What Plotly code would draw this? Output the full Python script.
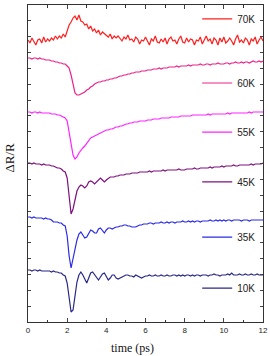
import plotly.graph_objects as go

# time axis (ps), sampled every 0.1 ps
time_ps = [round(i * 0.1, 1) for i in range(121)]

labels = ["70K", "60K", "55K", "45K", "35K", "10K"]
colors = ["#ff1f1f", "#ee2288", "#ff22ff", "#7f107f", "#2a2ae8", "#282888"]

# Offset dR/R traces (arbitrary units, vertically offset)
r70 = [282, 279, 284, 280, 277, 282, 283, 279, 285, 280,
       283, 281, 284, 282, 286, 283, 286, 284, 288, 285,
       291, 297, 300, 304, 306, 302, 307, 301, 300, 297,
       298, 293, 296, 291, 293, 289, 292, 287, 290, 288,
       287, 285, 288, 283, 286, 284, 286, 283, 281, 285,
       283, 287, 282, 283, 280, 285, 283, 278, 282, 281,
       285, 281, 277, 283, 281, 286, 280, 279, 283, 280,
       284, 278, 283, 285, 281, 282, 278, 283, 286, 280,
       279, 284, 280, 283, 282, 277, 282, 281, 285, 278,
       282, 286, 281, 283, 278, 284, 282, 277, 284, 280,
       285, 279, 281, 284, 281, 277, 283, 287, 280, 282,
       279, 284, 282, 277, 283, 281, 285, 278, 282, 285,
       281]
r60 = [264, 264, 263, 264, 264, 263, 264, 263, 263, 262,
       262, 262, 261, 261, 260, 260, 259, 259, 258, 258,
       256, 254, 247, 236, 229, 227, 227, 228, 229, 230,
       232, 233, 235, 236, 238, 239, 240, 240, 241, 241,
       242, 242, 243, 243, 244, 244, 245, 246, 246, 247,
       247, 248, 248, 249, 249, 250, 250, 250, 251, 251,
       251, 252, 252, 252, 253, 253, 253, 254, 253, 254,
       254, 254, 255, 255, 255, 255, 256, 255, 256, 256,
       256, 256, 257, 256, 257, 257, 257, 257, 258, 257,
       257, 258, 258, 257, 258, 258, 258, 259, 258, 258,
       258, 259, 259, 258, 259, 259, 260, 259, 259, 260,
       259, 260, 260, 259, 260, 261, 260, 260, 261, 260,
       261]
r55 = [210, 210, 209, 210, 210, 209, 210, 209, 209, 209,
       209, 209, 208, 208, 208, 207, 207, 206, 205, 204,
       201, 190, 176, 167, 163, 165, 169, 172, 174, 176,
       179, 181, 184, 185, 186, 187, 188, 189, 190, 191,
       192, 192, 193, 193, 194, 195, 195, 196, 196, 197,
       198, 198, 199, 199, 200, 200, 200, 201, 201, 201,
       201, 202, 202, 202, 203, 203, 203, 203, 204, 204,
       204, 204, 204, 205, 205, 205, 205, 205, 206, 206,
       206, 206, 206, 206, 207, 207, 207, 207, 207, 207,
       207, 207, 208, 207, 208, 208, 208, 208, 208, 208,
       208, 208, 209, 208, 209, 209, 209, 209, 209, 209,
       209, 209, 209, 210, 209, 210, 210, 210, 210, 210,
       210]
r45 = [159, 159, 158, 159, 158, 158, 158, 157, 158, 157,
       157, 157, 156, 156, 155, 154, 154, 153, 151, 150,
       144, 126, 108, 113, 124, 131, 135, 137, 136, 134,
       136, 140, 141, 140, 138, 140, 143, 144, 142, 140,
       142, 144, 145, 145, 145, 146, 146, 147, 147, 147,
       148, 148, 148, 149, 149, 149, 149, 150, 150, 150,
       150, 150, 151, 150, 151, 151, 151, 151, 151, 152,
       151, 152, 152, 152, 152, 152, 152, 153, 152, 152,
       152, 153, 153, 153, 153, 154, 153, 153, 154, 154,
       154, 154, 154, 155, 154, 155, 155, 155, 155, 156,
       155, 156, 156, 156, 156, 157, 156, 156, 157, 157,
       157, 157, 157, 157, 158, 157, 158, 158, 158, 158,
       159]
r35 = [105, 105, 104, 105, 104, 104, 104, 104, 103, 104,
       103, 103, 102, 100, 100, 100, 99, 99, 97, 96,
       86, 66, 54, 63, 75, 82, 88, 90, 87, 84,
       85, 89, 92, 91, 89, 89, 93, 94, 91, 89,
       92, 94, 94, 93, 94, 95, 95, 96, 96, 97,
       97, 96, 96, 95, 95, 95, 96, 97, 97, 98,
       98, 98, 99, 99, 98, 99, 99, 99, 100, 99,
       99, 100, 99, 100, 100, 99, 100, 100, 100, 101,
       100, 100, 101, 100, 101, 100, 101, 101, 100, 101,
       101, 101, 101, 102, 101, 101, 102, 101, 102, 101,
       102, 101, 102, 102, 101, 102, 102, 102, 102, 101,
       102, 102, 102, 101, 102, 102, 102, 102, 102, 102,
       102]
r10 = [52, 52, 51, 52, 52, 51, 52, 51, 51, 51,
       51, 51, 50, 51, 50, 50, 49, 49, 47, 46,
       39, 22, 10, 12, 29, 40, 47, 50, 47, 42,
       39, 44, 49, 50, 47, 44, 42, 45, 48, 49,
       46, 42, 44, 47, 47, 44, 43, 44, 45, 46,
       47, 47, 46, 46, 45, 47, 46, 45, 44, 45,
       46, 46, 47, 46, 46, 47, 46, 46, 47, 46,
       46, 47, 46, 46, 47, 47, 46, 47, 46, 47,
       46, 47, 47, 46, 47, 46, 47, 47, 46, 47,
       47, 47, 46, 47, 47, 48, 47, 47, 46, 47,
       47, 47, 48, 47, 49, 47, 47, 47, 48, 47,
       47, 48, 47, 47, 48, 47, 47, 48, 47, 47,
       47]

series = [r70, r60, r55, r45, r35, r10]
legend_y = [0.956, 0.754, 0.599, 0.442, 0.268, 0.107]

fig = go.Figure()
for i, (lab, col, vals) in enumerate(zip(labels, colors, series)):
    lname = "legend" if i == 0 else f"legend{i + 1}"
    fig.add_trace(go.Scatter(x=time_ps, y=vals, mode="lines", name=lab,
                             line=dict(color=col, width=1.2), legend=lname))

layout_legends = {}
for i, ly in enumerate(legend_y):
    lname = "legend" if i == 0 else f"legend{i + 1}"
    layout_legends[lname] = dict(x=0.72, y=ly, xanchor="left", yanchor="middle",
                                 bgcolor="rgba(0,0,0,0)", borderwidth=0,
                                 font=dict(family="Liberation Sans, Arial", size=10, color="#222"),
                                 itemwidth=30, tracegroupgap=0)

fig.update_layout(
    width=270, height=356,
    margin=dict(l=28, r=7, t=5, b=34, autoexpand=False),
    plot_bgcolor="white", paper_bgcolor="white",
    showlegend=True,
    **layout_legends,
    annotations=[
        dict(text="time (ps)", xref="paper", yref="paper", x=0.445, y=0,
             xanchor="center", yanchor="middle", yshift=-26, showarrow=False,
             font=dict(family="Liberation Serif, Times New Roman", size=12, color="#111")),
        dict(text="ΔR/R", xref="paper", yref="paper", x=0, y=0.517,
             xanchor="right", yanchor="middle", xshift=-9, textangle=-90, showarrow=False,
             font=dict(family="Liberation Serif, Times New Roman", size=13, color="#111")),
    ],
)
fig.update_xaxes(range=[0, 12], tick0=0, dtick=2, ticks="inside", ticklen=4,
                 minor=dict(dtick=1, ticks="inside", ticklen=2.5, tickcolor="#333"),
                 showline=True, linecolor="#333", linewidth=1, mirror="ticks",
                 showgrid=False, zeroline=False, automargin=False,
                 ticklabeloverflow="allow",
                 tickfont=dict(family="Liberation Sans, Arial", size=8, color="#222"))
fig.update_yaxes(range=[0, 317], tick0=0, dtick=15.85, ticks="inside", ticklen=3,
                 showticklabels=False, automargin=False,
                 showline=True, linecolor="#333", linewidth=1, mirror="ticks",
                 showgrid=False, zeroline=False)

fig.write_html("out.html", config={"displayModeBar": False},
               post_script="document.body.style.margin='0';")
